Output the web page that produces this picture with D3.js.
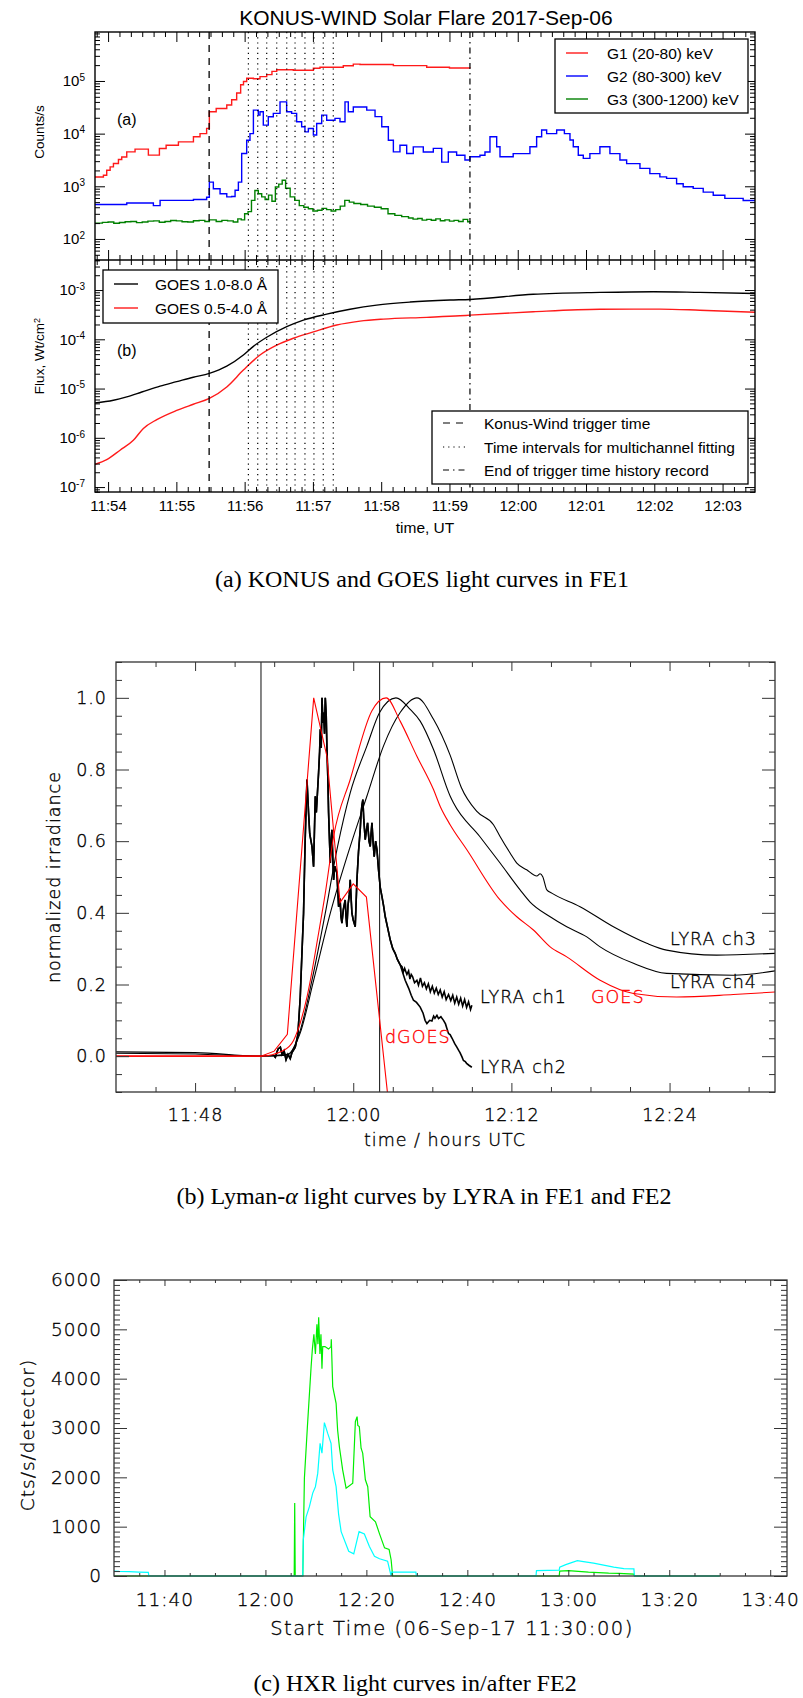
<!DOCTYPE html>
<html>
<head>
<meta charset="UTF-8" />
<title>Light curves of the 2017-Sep-06 flare</title>
<script src="https://d3js.org/d3.v7.min.js"></script>
<style>
  body { margin: 0; background: #fff; }
  svg { display: block; }
  .pa text { font-family: "Liberation Sans", Arial, sans-serif; fill: #000; }
  .idl text { font-family: "DejaVu Sans", sans-serif; font-weight: 200; fill: #000;
              stroke: #000; stroke-width: 0.35px; letter-spacing: 1px; }
  .caption { font-family: "Liberation Serif", "Times New Roman", serif; font-size: 24px; }
</style>
</head>
<body>
<script>
// ---------- (a) KONUS-WIND counts, t = seconds after 11:54:00 UT ----------
const konusG1 = [[-11.5,1500],[-4.1,1620],[-1.2,2020],[1.8,2340],[4.7,2700],[9.1,3230],[12,3600],[16.4,4500],[23.7,5070],[35.4,3900],[45.1,5220],[51,6030],[61.8,6980],[75,8700],[80.8,10000],[86.6,12600],[89,26000],[95,30000],[104.3,35000],[108.6,44000],[113,59000],[116.5,85000],[119,98000],[121.8,113000],[127.7,110000],[133.5,121000],[139.4,132000],[144,152000],[148.2,163000],[162.8,160000],[180.4,174000],[186.2,182000],[206.7,195000],[215.5,209000],[221.4,205000],[250.7,196000],[280,182000],[300,176000],[318,174000]];
const konusG2 = [[-11.5,450],[16.4,480],[39.8,430],[45.7,540],[75,560],[86.6,620],[89,1200],[92.5,900],[98.4,720],[104.3,630],[108.6,640],[111.6,840],[114.5,1200],[117.4,4200],[121.8,7500],[124.7,10000],[127.7,28000],[132,22500],[133.5,26000],[136.4,14500],[140.8,20900],[145.2,24200],[151.1,40000],[156.9,26000],[161.3,24200],[165.7,16800],[170.1,13500],[173,10800],[176,12500],[180.4,9400],[183.3,15600],[187.7,22500],[192.1,18000],[199.4,19500],[203.8,16800],[208.2,40000],[211.1,26000],[215.5,32000],[227.3,28000],[234.6,21000],[240.5,13500],[246.3,7500],[250.7,4500],[256.5,6000],[262.4,4200],[268.2,5600],[277,4470],[285.8,5250],[293.2,2880],[299,4470],[306.3,3890],[313.6,3160],[318,3630],[326.8,3890],[331.2,4470],[335.6,8710],[341.5,5620],[344.4,3630],[356,4170],[370.7,5620],[376.6,8710],[381,11750],[385.4,10000],[394.2,11750],[401,10000],[405.9,7590],[408.8,5620],[413.2,3890],[417.6,3390],[423.4,4170],[432.2,5620],[441,4170],[449.8,3160],[455.7,2690],[467.4,2190],[476.1,1740],[484.9,1510],[490.8,1410],[499.6,1120],[505.4,977],[514.2,912],[523,776],[531.8,676],[542,589],[558.1,537],[568.5,537]];
const konusG3 = [[-11.5,200],[-5,206],[0,210],[5,198],[10,205],[15,212],[20,215],[25,204],[30,210],[35,218],[40,220],[45,208],[50,215],[55,224],[60,220],[65,212],[70,210],[75,222],[80,225],[85,214],[89,230],[95,215],[100,225],[105,220],[110,210],[114,240],[117,230],[120,300],[123,330],[126,540],[129,830],[132,720],[135,630],[138,560],[141,680],[144,520],[147,970],[150,1100],[153,1300],[156,920],[160,630],[164,540],[168,430],[172,400],[176,375],[180,340],[184,350],[188,380],[192,360],[196,340],[200,360],[204,420],[208,540],[212,500],[216,470],[222,450],[228,420],[234,400],[240,375],[246,300],[252,280],[258,265],[264,250],[268,238],[272,245],[276,228],[280,235],[284,226],[288,240],[292,222],[296,230],[300,218],[304,225],[308,214],[312,235],[316,212],[318,220]];

// GOES flux, W/cm^2
const goesLong = [[-11.5,5.1e-6],[4.7,5.8e-6],[16.4,6.8e-6],[29.6,8.5e-6],[45.7,1.12e-5],[60.3,1.38e-5],[74.9,1.7e-5],[89,2.04e-5],[104.3,2.85e-5],[118.9,4.8e-5],[127.7,7.2e-5],[139.4,1.1e-4],[157,1.8e-4],[171.6,2.45e-4],[192.1,3.24e-4],[212.6,4.07e-4],[236,4.95e-4],[265.3,5.7e-4],[300.5,6.26e-4],[318,6.45e-4],[373.6,8.2e-4],[432.2,8.95e-4],[479.1,9.25e-4],[520,8.95e-4],[568.5,8.5e-4]];
const goesShort = [[-11.5,2.9e-7],[-1.2,3.6e-7],[10.5,5.6e-7],[22.2,8.9e-7],[31,1.55e-6],[42.8,2.34e-6],[60.3,3.6e-6],[74.9,4.8e-6],[89,6.3e-6],[104.3,1.08e-5],[118.9,2.37e-5],[133.5,4.8e-5],[148.2,7.6e-5],[162.8,1.05e-4],[180.4,1.41e-4],[200.9,1.95e-4],[221.4,2.34e-4],[241.9,2.57e-4],[280,2.79e-4],[309.2,3.0e-4],[318,3.09e-4],[373.6,3.63e-4],[432.2,4.07e-4],[484.9,4.1e-4],[520,3.9e-4],[568.5,3.55e-4]];

const triggerTime = 88.8;
const fitIntervals = [123.3,131.5,139.4,148.2,157,164.3,173,180.9,189.1,197.9];
const recordEnd = 318;

const xTicksA = [0,60,120,180,240,300,360,420,480,540];
const xLabelsA = ["11:54","11:55","11:56","11:57","11:58","11:59","12:00","12:01","12:02","12:03"];

const legendCounts = [["G1 (20-80) keV","#ff1a1a"],["G2 (80-300) keV","#0000ff"],["G3 (300-1200) keV","#008000"]];
const legendGoes = [["GOES 1.0-8.0 Å","#000"],["GOES 0.5-4.0 Å","#ff1a1a"]];
const legendMarks = [["Konus-Wind trigger time","7,6"],["Time intervals for multichannel fitting","1.2,4"],["End of trigger time history record","6,4,1.5,4"]];

// ---------- (b) LYRA, t = minutes after 11:00 UTC ----------
const lyraCh3 = [[42,0.012],[48,0.01],[53,0.0],[55,0.005],[55.98,0.065],[57.0,0.212],[58.26,0.399],[59.77,0.585],[61.04,0.726],[62.3,0.866],[63.56,0.959],[64.83,1.0],[66.09,0.94],[67.35,0.84],[68.2,0.75],[69.38,0.683],[70.64,0.646],[71.14,0.613],[71.9,0.567],[72.41,0.539],[73.16,0.52],[73.93,0.503],[74.18,0.509],[74.38,0.501],[74.69,0.464],[75.06,0.455],[77.21,0.417],[79.74,0.361],[82.27,0.315],[83.78,0.296],[87.57,0.282],[92,0.287]];
const lyraCh4 = [[42,0.008],[48,0.006],[53,0.0],[55,0.003],[55.98,0.072],[56.87,0.212],[57.88,0.399],[58.81,0.585],[59.77,0.735],[61.04,0.866],[62.0,0.959],[63.24,1.0],[64.32,0.968],[65.08,0.935],[66.09,0.856],[67.35,0.726],[67.6,0.707],[69.6,0.613],[71.14,0.539],[72.66,0.464],[73.42,0.43],[74.94,0.389],[76.2,0.361],[77.72,0.333],[78.73,0.305],[81.26,0.259],[83.78,0.231],[88.84,0.226],[92,0.238]];
const lyraEarly = [[54.0,0.0],[54.09,-0.003],[54.2,0.01],[54.3,0.02],[54.47,0.025],[54.6,0.005],[54.75,0.015],[54.9,-0.01],[55.05,0.005],[55.22,-0.007],[55.35,0.01],[55.6,0.025],[55.8,0.06],[55.98,0.165],[56.1,0.28],[56.23,0.399],[56.35,0.6],[56.49,0.772],[56.61,0.679],[56.7,0.62],[56.87,0.585],[56.99,0.529],[57.12,0.725],[57.2,0.68],[57.37,0.791],[57.45,0.85],[57.5,0.912],[57.57,0.86],[57.63,1.0],[57.7,0.93],[57.75,0.959],[57.82,0.9],[57.88,1.0],[57.95,0.95],[58.0,0.866],[58.07,0.78],[58.13,0.679],[58.2,0.6],[58.26,0.539],[58.32,0.6],[58.38,0.632],[58.45,0.55],[58.51,0.492],[58.6,0.53],[58.76,0.511],[58.83,0.46],[58.89,0.417],[59.0,0.44],[59.07,0.39],[59.14,0.371],[59.25,0.41],[59.39,0.436],[59.45,0.39],[59.52,0.361],[59.6,0.42],[59.7,0.45],[59.77,0.492],[59.84,0.44],[59.9,0.399],[60.0,0.38],[60.08,0.37],[60.15,0.361],[60.22,0.43],[60.28,0.492],[60.4,0.57],[60.53,0.632],[60.6,0.68],[60.66,0.7],[60.73,0.716],[60.8,0.66],[60.91,0.604],[61.0,0.63],[61.09,0.651],[61.2,0.6],[61.29,0.585],[61.35,0.62],[61.42,0.651],[61.5,0.6],[61.59,0.557],[61.7,0.6],[61.8,0.576],[61.92,0.52],[62.05,0.47],[62.18,0.445],[62.3,0.42],[62.43,0.389],[62.6,0.36],[62.81,0.324],[63.0,0.3],[63.18,0.287],[63.35,0.27],[63.56,0.255]];
const lyraCh1Tail = [[63.7,0.25],[63.8,0.235],[63.9,0.245],[64.07,0.228],[64.2,0.238],[64.3,0.215],[64.4,0.228],[64.5,0.222],[64.65,0.205],[64.83,0.212],[64.95,0.198],[65.1,0.218],[65.25,0.195],[65.4,0.205],[65.55,0.188],[65.7,0.202],[65.85,0.18],[66.0,0.195],[66.15,0.176],[66.3,0.19],[66.45,0.172],[66.6,0.185],[66.75,0.165],[66.9,0.18],[67.05,0.158],[67.23,0.172],[67.4,0.155],[67.55,0.17],[67.7,0.148],[67.85,0.165],[68.0,0.145],[68.15,0.162],[68.3,0.14],[68.45,0.158],[68.6,0.136],[68.75,0.152],[68.9,0.13],[69.0,0.142]];
const lyraCh2Tail = [[63.94,0.212],[64.2,0.19],[64.4,0.17],[64.57,0.156],[64.8,0.15],[65.08,0.137],[65.3,0.12],[65.45,0.1],[65.59,0.091],[65.8,0.1],[65.97,0.098],[66.1,0.112],[66.2,0.106],[66.35,0.114],[66.47,0.105],[66.65,0.11],[66.85,0.1],[67.0,0.09],[67.1,0.078],[67.23,0.063],[67.35,0.06],[67.5,0.05],[67.7,0.035],[67.86,0.025],[68.0,0.016],[68.1,0.01],[68.25,-0.002],[68.36,-0.012],[68.5,-0.015],[68.6,-0.02],[68.8,-0.026],[69.0,-0.031]];
const goesNorm = [[42,0.0],[53,0.0],[54.7,0.016],[55.47,0.044],[56.49,0.165],[57.37,0.343],[57.88,0.455],[58.51,0.613],[59.77,0.772],[61.42,0.964],[62.5,1.0],[63.56,0.935],[64.83,0.837],[66.09,0.744],[66.6,0.697],[67.35,0.646],[68.62,0.576],[71.14,0.436],[72.41,0.389],[73.67,0.352],[74.94,0.305],[76.2,0.277],[78.73,0.212],[81.26,0.175],[84.54,0.165],[88.84,0.172],[92,0.179]];
const goesDeriv = [[42,0.0],[53,0.0],[54,0.014],[55,0.061],[57,1.0],[58,0.837],[59,0.429],[60,0.481],[61,0.444],[63,-0.24]];
const fluxEpochs = [53, 62];

const xTicksB = [48,60,72,84];
const xLabelsB = ["11:48","12:00","12:12","12:24"];
const yTicksB = [0,0.2,0.4,0.6,0.8,1.0];
const yLabelsB = ["0.0","0.2","0.4","0.6","0.8","1.0"];
const curveLabelsB = [["LYRA ch3",84.03,0.327,"#000"],["LYRA ch4",84.03,0.207,"#000"],["LYRA ch1",69.62,0.165,"#000"],["GOES",78.04,0.165,"#ff0000"],["dGOES",62.41,0.054,"#ff0000"],["LYRA ch2",69.62,-0.03,"#000"]];

// ---------- (c) HXR counts, t = minutes after 11:00 UTC ----------
const hxrLow = [[30,0],[65.7,0],[65.8,1480],[65.9,0],[67.4,0],[67.72,1980],[68.3,3000],[69.05,4240],[69.3,4600],[69.6,4900],[69.9,4500],[70.2,5100],[70.4,4700],[70.55,5245],[70.8,4500],[71.0,4900],[71.2,4200],[71.35,4650],[71.8,4650],[72.5,4600],[73.0,4650],[73.05,4800],[73.33,3840],[74.0,3500],[74.3,2960],[74.65,2620],[75.3,2150],[75.98,1780],[77.3,1880],[77.82,3130],[78.16,3230],[78.3,3050],[78.6,3030],[78.95,2590],[79.27,2490],[79.8,1950],[80.27,1810],[80.74,1200],[81.8,1100],[82.57,865],[83.6,570],[84.5,540],[84.9,330],[85.2,0],[118.2,0],[118.3,100],[120,110],[122,95],[124,80],[126,70],[128,60],[130,55],[133,40],[133.1,0],[150,0]];
const hxrHigh = [[30,100],[31,95],[33,90],[35,80],[36.8,75],[36.9,0],[67.4,0],[67.5,730],[68.06,1200],[68.7,1400],[69.37,1680],[69.9,1810],[70.36,2080],[70.83,2690],[71.2,2490],[71.68,3110],[72.34,2890],[73.0,2690],[73.33,2150],[74.0,1810],[74.5,1250],[75.0,900],[76.5,500],[77.5,450],[78.55,900],[79.6,850],[80.6,600],[81.6,400],[82.6,350],[84.2,300],[84.9,0],[85.0,80],[89.8,80],[89.9,0],[113.6,0],[113.7,110],[118.2,120],[118.3,180],[119.5,230],[121.8,310],[123,290],[125,260],[127,220],[129,180],[131,150],[133,145],[133.1,0],[150,0]];

const xTicksC = [40,60,80,100,120,140,160];
const xLabelsC = ["11:40","12:00","12:20","12:40","13:00","13:20","13:40"];
const yTicksC = [0,1000,2000,3000,4000,5000,6000];

// ---------------------------------------------------------------------
const svg = d3.select("body").append("svg").attr("width", 803).attr("height", 1698);

function ticks(g, axis, scale, vals, size, labels, pad) {
  g.call(axis(scale).tickValues(vals).tickSize(size).tickPadding(pad || 0)
    .tickFormat(labels ? (d, i) => labels[i] : () => ""));
  g.select(".domain").remove();
  return g;
}
function clip(id, x0, y0, x1, y1) {
  svg.append("clipPath").attr("id", id).append("rect")
    .attr("x", x0).attr("y", y0).attr("width", x1 - x0).attr("height", y1 - y0);
  return "url(#" + id + ")";
}
function logTicks(scale) {
  const [a, b] = scale.domain(), out = [];
  for (let e = Math.floor(Math.log10(a)); e <= Math.ceil(Math.log10(b)); e++)
    for (let k = 1; k < 10; k++) { const v = k * Math.pow(10, e); if (v >= a && v <= b) out.push(v); }
  return out;
}
const isDecade = v => Math.abs(Math.log10(v) - Math.round(Math.log10(v))) < 1e-9;

// ============ panel (a) ============
const A = { left: 95, right: 755, top: 32, mid: 260, bottom: 492 };
const xA = d3.scaleLinear().domain([-11.5, 568.5]).range([A.left, A.right]);
const yCounts = d3.scaleLog().domain([Math.pow(10, 1.6), Math.pow(10, 5.93)]).range([A.mid, A.top]);
const yFlux = d3.scaleLog().domain([Math.pow(10, -7.1), Math.pow(10, -2.39)]).range([A.bottom, A.mid]);
const pa = svg.append("g").attr("class", "pa");

pa.append("text").attr("x", 426).attr("y", 25).attr("text-anchor", "middle")
  .attr("font-size", 21).text("KONUS-WIND Solar Flare 2017-Sep-06");

const clipTop = clip("clipTop", A.left, A.top, A.right, A.mid);
const clipBot = clip("clipBot", A.left, A.mid, A.right, A.bottom);

[[konusG3, "#008000"], [konusG2, "#0000ff"], [konusG1, "#ff1a1a"]].forEach(([d, c]) => {
  pa.append("path").datum(d).attr("clip-path", clipTop).attr("fill", "none")
    .attr("stroke", c).attr("stroke-width", 1.4)
    .attr("d", d3.line().x(p => xA(p[0])).y(p => yCounts(p[1])).curve(d3.curveStepAfter));
});
[[goesLong, "#000"], [goesShort, "#ff1a1a"]].forEach(([d, c]) => {
  pa.append("path").datum(d).attr("clip-path", clipBot).attr("fill", "none")
    .attr("stroke", c).attr("stroke-width", 1.4)
    .attr("d", d3.line().x(p => xA(p[0])).y(p => yFlux(p[1])).curve(d3.curveMonotoneX));
});

// time markers
pa.append("line").attr("x1", xA(triggerTime)).attr("x2", xA(triggerTime))
  .attr("y1", A.top).attr("y2", A.bottom).attr("stroke", "#000").attr("stroke-width", 1.3)
  .attr("stroke-dasharray", legendMarks[0][1]);
pa.selectAll(".fit").data(fitIntervals).join("line")
  .attr("x1", d => xA(d)).attr("x2", d => xA(d)).attr("y1", A.top).attr("y2", A.bottom)
  .attr("stroke", "#000").attr("stroke-width", 1.2).attr("stroke-dasharray", legendMarks[1][1]);
pa.append("line").attr("x1", xA(recordEnd)).attr("x2", xA(recordEnd))
  .attr("y1", A.top).attr("y2", A.bottom).attr("stroke", "#000").attr("stroke-width", 1.2)
  .attr("stroke-dasharray", legendMarks[2][1]);

// axes
const minorA = d3.range(-10, 561, 10).filter(v => v % 60 !== 0);
[[d3.axisTop, A.top], [d3.axisBottom, A.mid], [d3.axisTop, A.mid], [d3.axisBottom, A.bottom]].forEach(([ax, y], i) => {
  ticks(pa.append("g").attr("transform", `translate(0,${y})`), ax, xA, minorA, -5);
  const g = ticks(pa.append("g").attr("transform", `translate(0,${y})`), ax, xA, xTicksA, -10,
    i === 3 ? xLabelsA : null, 8);
  g.attr("font-size", 15).attr("font-family", null);
});
[yCounts, yFlux].forEach(ys => {
  const all = logTicks(ys), major = all.filter(isDecade), minor = all.filter(v => !isDecade(v));
  ticks(pa.append("g").attr("transform", `translate(${A.left},0)`), d3.axisLeft, ys, minor, -5);
  ticks(pa.append("g").attr("transform", `translate(${A.right},0)`), d3.axisRight, ys, minor, -5);
  ticks(pa.append("g").attr("transform", `translate(${A.right},0)`), d3.axisRight, ys, major, -10);
  const g = ticks(pa.append("g").attr("transform", `translate(${A.left},0)`), d3.axisLeft, ys, major, -10,
    major.map(() => "x"), 10);
  g.attr("font-size", 15).attr("font-family", null);
  g.selectAll(".tick text").each(function (d) {
    const t = d3.select(this).text(null);
    t.append("tspan").text("10");
    t.append("tspan").attr("dy", "-0.55em").attr("font-size", 10).text(Math.round(Math.log10(d)));
  });
});
pa.append("rect").attr("x", A.left).attr("y", A.top).attr("width", A.right - A.left)
  .attr("height", A.bottom - A.top).attr("fill", "none").attr("stroke", "#000").attr("stroke-width", 1.4);
pa.append("line").attr("x1", A.left).attr("x2", A.right).attr("y1", A.mid).attr("y2", A.mid)
  .attr("stroke", "#000").attr("stroke-width", 1.4);

pa.append("text").attr("transform", "translate(44,132) rotate(-90)").attr("text-anchor", "middle")
  .attr("font-size", 13.5).text("Counts/s");
const fl = pa.append("text").attr("transform", "translate(44,356) rotate(-90)").attr("text-anchor", "middle")
  .attr("font-size", 13.5);
fl.append("tspan").text("Flux, Wt/cm");
fl.append("tspan").attr("dy", "-0.5em").attr("font-size", 9).text("2");
pa.append("text").attr("x", 425).attr("y", 533).attr("text-anchor", "middle").attr("font-size", 15.5).text("time, UT");
pa.append("text").attr("x", 117).attr("y", 125).attr("font-size", 16).text("(a)");
pa.append("text").attr("x", 117).attr("y", 356).attr("font-size", 16).text("(b)");

// legends
function legendBox(x0, y0, x1, y1, rows, y, lx0, lx1, tx, styler) {
  pa.append("rect").attr("x", x0).attr("y", y0).attr("width", x1 - x0).attr("height", y1 - y0)
    .attr("fill", "#fff").attr("stroke", "#000").attr("stroke-width", 1.3);
  rows.forEach((r, i) => {
    const ln = pa.append("line").attr("x1", lx0).attr("x2", lx1).attr("y1", y[i]).attr("y2", y[i])
      .attr("stroke-width", 1.4);
    styler(ln, r);
    pa.append("text").attr("x", tx).attr("y", y[i] + 5.5).attr("font-size", 15.5).text(r[0]);
  });
}
legendBox(555, 39, 748, 113, legendCounts, [53, 76, 99], 566, 588, 607, (ln, r) => ln.attr("stroke", r[1]));
legendBox(103, 270, 278, 323, legendGoes, [284, 308], 114, 138, 155, (ln, r) => ln.attr("stroke", r[1]));
legendBox(432, 411, 748, 484, legendMarks, [423, 447, 470], 443, 467, 484,
  (ln, r) => ln.attr("stroke", "#000").attr("stroke-dasharray", r[1]).attr("stroke-width", 1.2));

svg.append("text").attr("class", "caption").attr("x", 422).attr("y", 587).attr("text-anchor", "middle")
  .text("(a) KONUS and GOES light curves in FE1");

// ============ panel (b) ============
const B = { left: 116, right: 775, top: 662, bottom: 1092 };
const xB = d3.scaleLinear().domain([42, 92]).range([B.left, B.right]);
const yB = d3.scaleLinear().domain([-0.1, 1.1]).range([B.bottom, B.top]);
const pb = svg.append("g").attr("class", "idl");
const clipB = clip("clipB", B.left, B.top, B.right, B.bottom);
const lineB = curve => d3.line().x(p => xB(p[0])).y(p => yB(p[1])).curve(curve);

fluxEpochs.forEach(t => pb.append("line").attr("x1", xB(t)).attr("x2", xB(t))
  .attr("y1", B.top).attr("y2", B.bottom).attr("stroke", "#222").attr("stroke-width", 1.1));
[[lyraCh3, "#000", 1.1, d3.curveMonotoneX], [lyraCh4, "#000", 1.1, d3.curveMonotoneX],
 [lyraEarly.concat(lyraCh1Tail), "#000", 1.6, d3.curveLinear], [lyraEarly.concat(lyraCh2Tail), "#000", 1.6, d3.curveLinear],
 [goesNorm, "#ff0000", 1.1, d3.curveMonotoneX], [goesDeriv, "#ff0000", 1.1, d3.curveLinear]]
  .forEach(([d, c, w, cv]) => pb.append("path").datum(d).attr("clip-path", clipB).attr("fill", "none")
    .attr("stroke", c).attr("stroke-width", w).attr("d", lineB(cv)));

curveLabelsB.forEach(([txt, t, v, c]) => pb.append("text").attr("x", xB(t)).attr("y", yB(v))
  .attr("dy", "0.36em").attr("font-size", 17.5).style("fill", c).style("stroke", c).text(txt));

const minorXB = d3.range(45, 91, 3).filter(v => !xTicksB.includes(v));
const minorYB = d3.range(-2, 23).map(k => k * 0.05).filter(v => Math.round(v * 100) % 20 !== 0);
ticks(pb.append("g").attr("transform", `translate(0,${B.top})`), d3.axisTop, xB, minorXB, -5);
ticks(pb.append("g").attr("transform", `translate(0,${B.top})`), d3.axisTop, xB, xTicksB, -9);
ticks(pb.append("g").attr("transform", `translate(0,${B.bottom})`), d3.axisBottom, xB, minorXB, -5);
ticks(pb.append("g").attr("transform", `translate(0,${B.bottom})`), d3.axisBottom, xB, xTicksB, -9, xLabelsB, 17)
  .attr("font-size", 17.5).attr("font-family", null);
ticks(pb.append("g").attr("transform", `translate(${B.left},0)`), d3.axisLeft, yB, minorYB, -6);
ticks(pb.append("g").attr("transform", `translate(${B.right},0)`), d3.axisRight, yB, minorYB, -6);
ticks(pb.append("g").attr("transform", `translate(${B.right},0)`), d3.axisRight, yB, yTicksB, -13);
ticks(pb.append("g").attr("transform", `translate(${B.left},0)`), d3.axisLeft, yB, yTicksB, -13, yLabelsB, 9)
  .attr("font-size", 17.5).attr("font-family", null);
pb.selectAll(".tick line").attr("stroke", "#333");
pb.append("rect").attr("x", B.left).attr("y", B.top).attr("width", B.right - B.left)
  .attr("height", B.bottom - B.top).attr("fill", "none").attr("stroke", "#333").attr("stroke-width", 1.3);
pb.append("text").attr("transform", "translate(60,877) rotate(-90)").attr("text-anchor", "middle")
  .attr("font-size", 17.5).text("normalized irradiance");
pb.append("text").attr("x", 445).attr("y", 1146).attr("text-anchor", "middle")
  .attr("font-size", 17.5).text("time / hours UTC");

const capB = svg.append("text").attr("class", "caption").attr("x", 424).attr("y", 1204).attr("text-anchor", "middle");
capB.append("tspan").text("(b) Lyman-");
capB.append("tspan").attr("font-style", "italic").text("α");
capB.append("tspan").text(" light curves by LYRA in FE1 and FE2");

// ============ panel (c) ============
const C = { left: 114, right: 787, top: 1280, bottom: 1576 };
const xC = d3.scaleLinear().domain([30, 163.33]).range([C.left, C.right]);
const yC = d3.scaleLinear().domain([0, 6000]).range([C.bottom, C.top]);
const pc = svg.append("g").attr("class", "idl");
const clipC = clip("clipC", C.left, C.top - 1, C.right, C.bottom + 1);

[[hxrLow, "#00ee00"], [hxrHigh, "#00ffff"]].forEach(([d, c]) =>
  pc.append("path").datum(d).attr("clip-path", clipC).attr("fill", "none").attr("stroke", c)
    .attr("stroke-width", 1.2).attr("d", d3.line().x(p => xC(p[0])).y(p => yC(p[1]))));

const minorXC = d3.range(35, 160, 5).filter(v => !xTicksC.includes(v));
const minorYC = d3.range(100, 6000, 100).filter(v => v % 1000 !== 0);
ticks(pc.append("g").attr("transform", `translate(0,${C.top})`), d3.axisTop, xC, minorXC, -3);
ticks(pc.append("g").attr("transform", `translate(0,${C.top})`), d3.axisTop, xC, xTicksC, -6);
ticks(pc.append("g").attr("transform", `translate(0,${C.bottom})`), d3.axisBottom, xC, minorXC, -3);
ticks(pc.append("g").attr("transform", `translate(0,${C.bottom})`), d3.axisBottom, xC, xTicksC, -6, xLabelsC, 17)
  .attr("font-size", 18.5).attr("font-family", null);
ticks(pc.append("g").attr("transform", `translate(${C.left},0)`), d3.axisLeft, yC, minorYC, -6);
ticks(pc.append("g").attr("transform", `translate(${C.right},0)`), d3.axisRight, yC, minorYC, -6);
ticks(pc.append("g").attr("transform", `translate(${C.right},0)`), d3.axisRight, yC, yTicksC, -13);
ticks(pc.append("g").attr("transform", `translate(${C.left},0)`), d3.axisLeft, yC, yTicksC, -13, yTicksC.map(String), 12)
  .attr("font-size", 18.5).attr("font-family", null);
pc.selectAll(".tick line").attr("stroke", "#333");
pc.append("rect").attr("x", C.left).attr("y", C.top).attr("width", C.right - C.left)
  .attr("height", C.bottom - C.top).attr("fill", "none").attr("stroke", "#333").attr("stroke-width", 1.3);
pc.append("text").attr("transform", "translate(34,1435) rotate(-90)").attr("text-anchor", "middle")
  .attr("font-size", 18.5).text("Cts/s/detector)");
pc.append("text").attr("x", 452).attr("y", 1635).attr("text-anchor", "middle")
  .attr("font-size", 19.5).style("letter-spacing", "1.5px").text("Start Time (06-Sep-17 11:30:00)");

svg.append("text").attr("class", "caption").attr("x", 415).attr("y", 1691).attr("text-anchor", "middle")
  .text("(c) HXR light curves in/after FE2");
</script>
</body>
</html>
